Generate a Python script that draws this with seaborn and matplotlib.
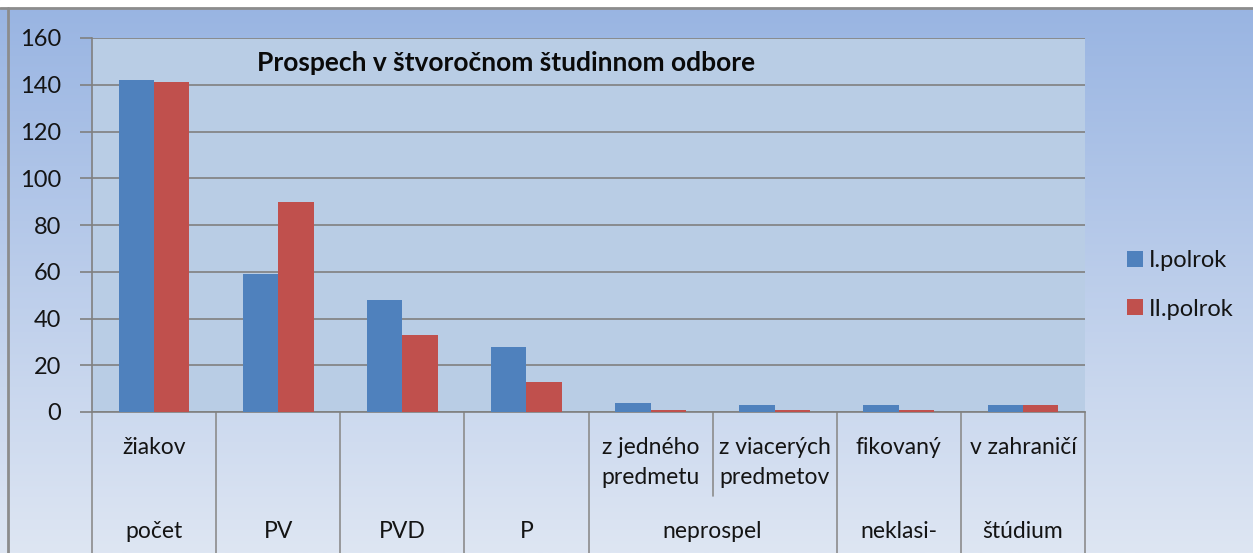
import numpy as np
import pandas as pd
import seaborn as sns
import matplotlib.pyplot as plt
from matplotlib.transforms import blended_transform_factory
from matplotlib.patches import Patch

# data
cat_top = ['žiakov', '', '', '', 'z jedného\npredmetu', 'z viacerých\npredmetov', 'fikovaný', 'v zahraničí']
cat_group = ['počet', 'PV', 'PVD', 'P', 'neprospel', 'neklasi-', 'štúdium']
group_span = [1, 1, 1, 1, 2, 1, 1]
keys = ['pocet', 'PV', 'PVD', 'P', 'nep1', 'nep2', 'neklas', 'zahr']
polrok1 = [142, 59, 48, 28, 4, 3, 3, 3]
polrok2 = [141, 90, 33, 13, 1, 1, 1, 3]
series = ['I.polrok', 'II.polrok']
colors = ['#4F81BD', '#C0504D']

df = pd.DataFrame({
    'kat': keys * 2,
    'hodnota': polrok1 + polrok2,
    'polrok': [series[0]] * len(keys) + [series[1]] * len(keys),
})

sns.set_style('white')
plt.rcParams['font.family'] = ['Lato', 'DejaVu Sans']
txt_col = '#141414'

fig = plt.figure(figsize=(12.53, 5.53), dpi=100)

# gradient background
bg = fig.add_axes([0, 0, 1, 1], zorder=-2)
top = np.array([152, 180, 226]) / 255
bot = np.array([222, 230, 243]) / 255
t = np.linspace(0, 1, 256)[:, None]
grad = top * (1 - t) + bot * t
bg.imshow(grad[:, None, :], aspect='auto', extent=[0, 1, 0, 1])
bg.axhspan(1 - 8 / 553, 1, color='white')
bg.axhline(1 - 8 / 553, color='#8c8c8c', lw=2)
bg.axvline(8 / 1253, ymax=1 - 8 / 553, color='#8c8c8c', lw=2)
bg.set_xlim(0, 1)
bg.set_ylim(0, 1)
bg.axis('off')

ax = fig.add_axes([92 / 1253, 1 - 412 / 553, 993 / 1253, 374 / 553])
ax.set_facecolor('#B9CDE5')
sns.barplot(data=df, x='kat', y='hodnota', hue='polrok', palette=colors,
            width=0.57, saturation=1, linewidth=0, ax=ax, legend=False, zorder=3)
ax.set_ylim(0, 160)
ax.set_xlim(-0.5, len(keys) - 0.5)
ax.set_yticks(range(0, 161, 20))
ax.yaxis.grid(True, color='#808080', lw=1.2, zorder=1)
ax.set_axisbelow(True)
ax.tick_params(axis='y', length=9, width=1.2, color='#808080', pad=13,
               labelsize=17, labelcolor=txt_col, left=True)
ax.set_xticks([])
ax.set_xlabel('')
ax.set_ylabel('')
for s in ['top', 'right']:
    ax.spines[s].set_visible(False)
ax.spines['left'].set_color('#808080')
ax.spines['bottom'].set_color('#808080')
ax.spines['left'].set_linewidth(1.2)
ax.spines['bottom'].set_linewidth(1.2)

ax.text(0.4165, 0.933, 'Prospech v štvoročnom študinnom odbore', transform=ax.transAxes,
        ha='center', va='center', fontsize=19, fontweight='bold', color='#0a0a0a')

# category table under the axis
tr = blended_transform_factory(ax.transData, fig.transFigure)
y0 = 1 - 412 / 553
y_half = 1 - 496 / 553
for i in range(len(keys) + 1):
    x = i - 0.5
    ymin = y_half if i == 5 else 0
    ax.plot([x, x], [ymin, y0], transform=tr, color='#8c8c8c', lw=1.2, clip_on=False)

for i, lab in enumerate(cat_top):
    if not lab:
        continue
    lines = lab.split('\n')
    for j, line in enumerate(lines):
        ax.text(i, 1 - (447 + 31 * j) / 553, line, transform=tr, ha='center', va='center',
                fontsize=16.5, color=txt_col)

pos = 0
for lab, span in zip(cat_group, group_span):
    xc = pos + (span - 1) / 2
    ax.text(xc, 1 - 531 / 553, lab, transform=tr, ha='center', va='center',
            fontsize=16.5, color=txt_col)
    pos += span

handles = [Patch(facecolor=c, edgecolor='none', label=s) for c, s in zip(colors, series)]
leg = fig.legend(handles=handles, loc='center left', bbox_to_anchor=(1118 / 1253, 1 - 285 / 553),
                 frameon=False, fontsize=17, handlelength=0.65, handleheight=0.65,
                 handletextpad=0.25, labelspacing=1.15, borderaxespad=0)
for tx in leg.get_texts():
    tx.set_color(txt_col)

fig.savefig('out.png', dpi=100)
